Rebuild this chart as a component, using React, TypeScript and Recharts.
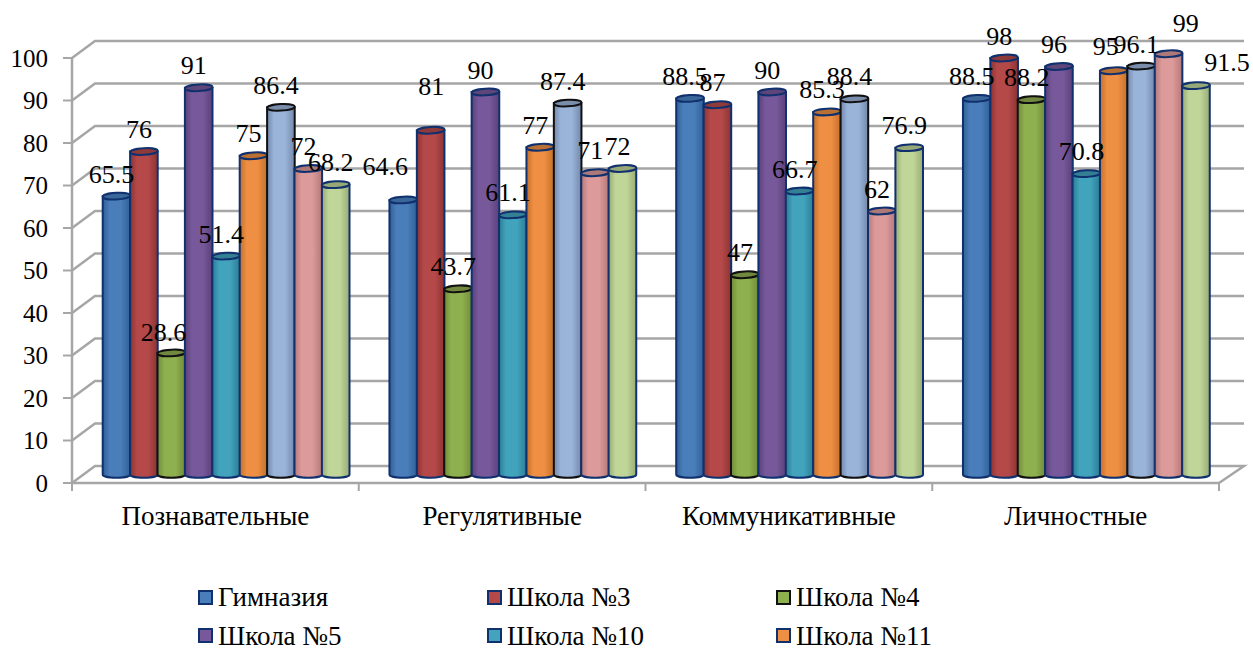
import { Bar, CartesianGrid, ComposedChart, LabelList, Legend, Line, XAxis, YAxis } from "recharts";

const categories = ["Познавательные", "Регулятивные", "Коммуникативные", "Личностные"];
const yTicks = [0, 10, 20, 30, 40, 50, 60, 70, 80, 90, 100];
const legendNames = ["Гимназия", "Школа №3", "Школа №4", "Школа №5", "Школа №10", "Школа №11"];

const gymnasium = [65.5, 64.6, 88.5, 88.5];
const school3 = [76, 81, 87, 98];
const school4 = [28.6, 43.7, 47, 88.2];
const school5 = [91, 90, 90, 96];
const school10 = [51.4, 61.1, 66.7, 70.8];
const school11 = [75, 77, 85.3, 95];
const series7 = [86.4, 87.4, 88.4, 96.1];
const series8 = [72, 71, 62, 99];
const series9 = [68.2, 72, 76.9, 91.5];

const allSeries = [gymnasium, school3, school4, school5, school10, school11, series7, series8, series9];

const colors = ["#4a7ebb", "#b5494a", "#8fb04f", "#77599b", "#42a3bd", "#ee8f43", "#9ab3d9", "#dc9a9a", "#c0d699"];
const edgeColors = ["#2f5f96", "#8c3331", "#6f8c39", "#5a4079", "#2c7d93", "#c36f2a", "#7389ab", "#b47878", "#98ab74"];
const topColors = ["#3a6699", "#8e3a3a", "#71893e", "#5e467a", "#337f94", "#ba7033", "#7a8dab", "#ad7878", "#96a877"];
const outlines = ["#10306e", "#10306e", "#111111", "#10306e", "#10306e", "#10306e", "#111111", "#10306e", "#10306e"];

// labels that were dragged away from their default spot, "series-category": [dx, dy]
const labelNudges: Record<string, number[]> = {
  "0-1": [-13, -11],
  "1-1": [5.6, -22],
  "2-0": [-3, 2],
  "5-3": [-3, -2],
  "7-3": [22, -8],
  "8-3": [36, -1],
};

const data = categories.map((name, i) => {
  const row: Record<string, string | number> = { name };
  allSeries.forEach((values, s) => {
    row["s" + s] = values[i];
  });
  return row;
});

const WIDTH = 1253;
const HEIGHT = 648;
const LEFT = 72;
const RIGHT = 34;
const TOP = 58;
const BOTTOM = 165;
const DEPTH_X = 23;
const DEPTH_Y = 17;
const BAR_SHIFT_X = 10.8;
const BAND = (WIDTH - LEFT - RIGHT) / categories.length;
const BAR_W = 27.4;
const GRID = "#a6a6a6";
const FONT = "'Liberation Serif', serif";

const WallLine = (props: any) => {
  const { x1, x2, y1 } = props;
  const isFloor = Math.abs(y1 - (HEIGHT - BOTTOM)) < 1;
  let d = `M${x1},${y1}L${x1 + DEPTH_X},${y1 - DEPTH_Y}L${x2 + DEPTH_X + 2},${y1 - DEPTH_Y}`;
  if (isFloor) d += `L${x2},${y1}`;
  return <path key={props.key} d={d} fill="none" stroke={GRID} strokeWidth={2.5} />;
};

const Cylinder = (s: number) => (props: any) => {
  const { x, y, width, height } = props;
  const top = y - DEPTH_Y / 2;
  const bottom = top + height;
  const cx = x + BAR_SHIFT_X + width / 2;
  const rx = width / 2 + 0.1;
  const ry = 3.3;
  const left = cx - rx;
  const right = cx + rx;
  return (
    <g>
      <path
        d={`M${left},${top}L${left},${bottom}A${rx},${ry} 0 0 0 ${right},${bottom}L${right},${top}Z`}
        fill={`url(#cyl${s})`}
        stroke={outlines[s]}
        strokeWidth={2}
      />
      <ellipse
        cx={cx}
        cy={top}
        rx={rx}
        ry={ry}
        transform={`rotate(-3 ${cx} ${top})`}
        fill={topColors[s]}
        stroke={outlines[s]}
        strokeWidth={2}
      />
    </g>
  );
};

const XTick = (props: any) => {
  const { x, payload, index } = props;
  const base = HEIGHT - BOTTOM;
  return (
    <g>
      <line x1={x - BAND / 2} x2={x - BAND / 2} y1={base} y2={base + 8} stroke={GRID} strokeWidth={2} />
      {index === categories.length - 1 && (
        <line x1={x + BAND / 2} x2={x + BAND / 2} y1={base} y2={base + 8} stroke={GRID} strokeWidth={2} />
      )}
      <text x={x} y={base + 42} textAnchor="middle" fontFamily={FONT} fontSize={27} fill="#000">
        {payload.value}
      </text>
    </g>
  );
};

const ValueLabel = (s: number) => (props: any) => {
  const { x, y, value, index } = props;
  const [dx, dy] = labelNudges[`${s}-${index}`] || [0, 0];
  return (
    <text
      x={x + (s - 4) * BAR_W + BAR_SHIFT_X - 5 + dx}
      y={y - DEPTH_Y / 2 - 13.5 + dy}
      textAnchor="middle"
      fontFamily={FONT}
      fontSize={26}
      fill="#000"
    >
      {value}
    </text>
  );
};

const LegendBox = () => (
  <div
    style={{
      display: "grid",
      gridTemplateColumns: "289px 289px 289px",
      rowGap: 10.5,
      fontFamily: FONT,
      fontSize: 27,
      lineHeight: "28px",
      color: "#000",
    }}
  >
    {legendNames.map((name, i) => (
      <div key={name} style={{ display: "flex", alignItems: "center", gap: 5 }}>
        <span
          style={{
            display: "inline-block",
            width: 11,
            height: 11,
            background: colors[i],
            border: `2px solid ${outlines[i]}`,
          }}
        />
        {name}
      </div>
    ))}
  </div>
);

export default function App() {
  return (
    <div style={{ position: "absolute", left: 0, top: 0, width: WIDTH, height: HEIGHT, overflow: "hidden", background: "#fff" }}>
      <ComposedChart
        width={WIDTH}
        height={HEIGHT}
        data={data}
        margin={{ top: TOP, right: RIGHT, bottom: 0, left: 0 }}
        barGap={0}
        barSize={BAR_W}
      >
        <defs>
          {colors.map((c, s) => (
            <linearGradient key={c} id={`cyl${s}`} x1="0" y1="0" x2="1" y2="0">
              <stop offset="0" stopColor={edgeColors[s]} />
              <stop offset="0.25" stopColor={c} />
              <stop offset="0.65" stopColor={c} />
              <stop offset="1" stopColor={edgeColors[s]} />
            </linearGradient>
          ))}
        </defs>
        <CartesianGrid vertical={false} horizontal={WallLine} />
        <XAxis
          dataKey="name"
          interval={0}
          height={BOTTOM}
          axisLine={{ stroke: GRID, strokeWidth: 2.5 }}
          tickLine={false}
          tick={XTick}
        />
        <YAxis
          domain={[0, 100]}
          ticks={yTicks}
          width={LEFT}
          interval={0}
          axisLine={{ stroke: GRID, strokeWidth: 2.5 }}
          tickLine={{ stroke: GRID, strokeWidth: 2 }}
          tickSize={9}
          tickMargin={15}
          tick={{ fontFamily: FONT, fontSize: 25, fill: "#000" }}
        />
        {allSeries.map((_, s) => (
          <Bar key={s} dataKey={"s" + s} fill={colors[s]} shape={Cylinder(s)} isAnimationActive={false} />
        ))}
        {allSeries.map((_, s) => (
          <Line
            key={"l" + s}
            dataKey={"s" + s}
            stroke="none"
            dot={false}
            activeDot={false}
            legendType="none"
            isAnimationActive={false}
          >
            <LabelList dataKey={"s" + s} content={ValueLabel(s)} />
          </Line>
        ))}
        <Legend
          layout="horizontal"
          verticalAlign="middle"
          content={LegendBox}
          wrapperStyle={{ position: "absolute", left: 198, top: 583, width: 870 }}
        />
      </ComposedChart>
    </div>
  );
}
